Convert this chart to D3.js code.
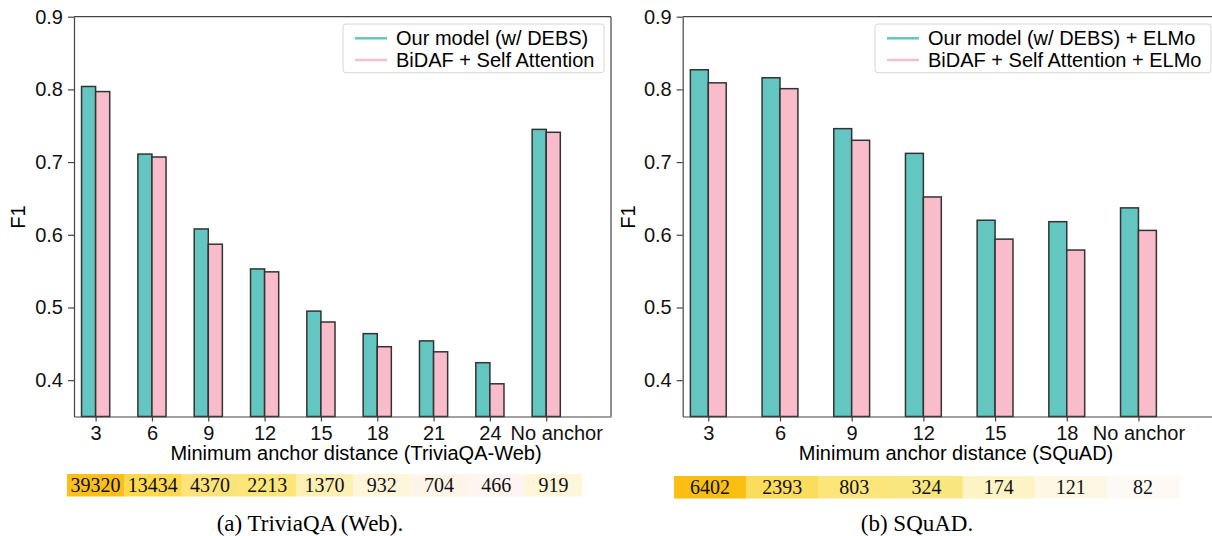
<!DOCTYPE html>
<html>
<head>
<meta charset="utf-8">
<script src="https://cdn.jsdelivr.net/npm/d3@7"></script>
<style>
  body { margin: 0; background: #fff; }
  svg { display: block; }
  .tick text { font-family: "Liberation Sans", Arial, sans-serif; font-size: 20px; fill: #111; }
</style>
</head>
<body>
<script>
// F1 by minimum anchor distance
const triviaCategories = ["3", "6", "9", "12", "15", "18", "21", "24", "No anchor"];
const triviaOurs = [0.804, 0.711, 0.608, 0.553, 0.495, 0.464, 0.454, 0.424, 0.745];
const triviaBidaf = [0.797, 0.707, 0.587, 0.549, 0.480, 0.446, 0.439, 0.395, 0.741];
const triviaCounts = [39320, 13434, 4370, 2213, 1370, 932, 704, 466, 919];

const squadCategories = ["3", "6", "9", "12", "15", "18", "No anchor"];
const squadOurs = [0.827, 0.816, 0.746, 0.712, 0.620, 0.618, 0.637];
const squadBidaf = [0.809, 0.801, 0.730, 0.652, 0.594, 0.579, 0.606];
const squadCounts = [6402, 2393, 803, 324, 174, 121, 82];

const yTicks = [0.4, 0.5, 0.6, 0.7, 0.8, 0.9];

/*
Colours
*/
const teal = "#63c6c0";
const pink = "#f8bccb";
const triviaShades = ["#fbbf1a", "#fdd94f", "#fce47a", "#fce67a", "#fcf0b5", "#fef6da", "#fdf6e8", "#fef4f0", "#fef6da"];
const squadShades = ["#fbbf14", "#fcdc5c", "#fce67b", "#fae67e", "#fdf4c5", "#fdf8e4", "#fdfaf5"];

const svg = d3.select("body").append("svg")
	.attr("width", 1212)
	.attr("height", 536);

const sans = "'Liberation Sans', Arial, sans-serif";
const serif = "'Liberation Serif', 'Times New Roman', serif";

function drawPanel(p) {
	const g = svg.append("g");
	const x = d3.scaleLinear().domain(p.xDomain).range(p.xRange);
	const y = d3.scaleLinear().domain([0.35, 0.9]).range([416.5, 16.7]);
	const idx = d3.range(p.categories.length);

	// bars
	g.selectAll(".ours")
		.data(idx)
		.enter()
		.append("rect")
		.attr("x", (i) => x(i - 0.25))
		.attr("width", (i) => x(i) - x(i - 0.25))
		.attr("y", (i) => y(p.ours[i]))
		.attr("height", (i) => y(0.35) - y(p.ours[i]))
		.attr("fill", teal)
		.attr("stroke", "#333")
		.attr("stroke-width", 1.5);
	g.selectAll(".bidaf")
		.data(idx)
		.enter()
		.append("rect")
		.attr("x", (i) => x(i))
		.attr("width", (i) => x(i + 0.25) - x(i))
		.attr("y", (i) => y(p.bidaf[i]))
		.attr("height", (i) => y(0.35) - y(p.bidaf[i]))
		.attr("fill", pink)
		.attr("stroke", "#333")
		.attr("stroke-width", 1.5);

	// spines
	const x0 = p.xRange[0], x1 = p.xRange[1];
	g.append("line")
		.attr("x1", x0).attr("x2", x1)
		.attr("y1", y(0.9)).attr("y2", y(0.9))
		.attr("stroke", "#444").attr("stroke-width", 1.2);
	g.append("line")
		.attr("x1", x1).attr("x2", x1)
		.attr("y1", y(0.9)).attr("y2", y(0.35))
		.attr("stroke", "#444").attr("stroke-width", 1.2);

	const yAxis = g.append("g")
		.attr("transform", `translate(${x0},0)`)
		.call(d3.axisLeft(y).tickValues(yTicks).tickFormat(d3.format(".1f"))
			.tickSize(6).tickSizeOuter(0).tickPadding(5));
	const xAxis = g.append("g")
		.attr("transform", `translate(0,${y(0.35)})`)
		.call(d3.axisBottom(x).tickValues(idx).tickFormat((i) => p.categories[i])
			.tickSize(5).tickSizeOuter(0).tickPadding(4));
	[yAxis, xAxis].forEach((a) => {
		a.select(".domain").attr("stroke", "#444").attr("stroke-width", 1.2);
		a.selectAll(".tick line").attr("stroke", "#444").attr("stroke-width", 1.2);
	});
	// last label sits a little right of its tick in the TriviaQA panel
	xAxis.selectAll(".tick text")
		.filter((i) => i === idx.length - 1)
		.attr("dx", p.lastShift);

	// labels
	g.append("text")
		.attr("transform", `translate(${p.yLabelX},217) rotate(-90)`)
		.attr("text-anchor", "middle")
		.style("font-family", sans).style("font-size", "20px")
		.text("F1");
	g.append("text")
		.attr("x", p.xLabelX).attr("y", 460)
		.attr("text-anchor", "middle")
		.style("font-family", sans).style("font-size", "20px")
		.text(p.xLabel);

	// legend
	const lg = g.append("g");
	lg.append("rect")
		.attr("x", p.legend[0]).attr("y", 24)
		.attr("width", p.legend[1] - p.legend[0]).attr("height", 48.7)
		.attr("rx", 3)
		.attr("fill", "#fff").attr("fill-opacity", 0.85)
		.attr("stroke", "#d6d6d6").attr("stroke-width", 1);
	[[p.names[0], teal, 38.3], [p.names[1], pink, 60]].forEach((d) => {
		lg.append("line")
			.attr("x1", p.legend[0] + 12).attr("x2", p.legend[0] + 44)
			.attr("y1", d[2]).attr("y2", d[2])
			.attr("stroke", d[1]).attr("stroke-width", 2.5);
		lg.append("text")
			.attr("x", p.legend[0] + 53).attr("y", d[2] + 6.5)
			.style("font-family", sans).style("font-size", "20px")
			.text(d[0]);
	});

	// count strip
	const band = d3.scaleBand().domain(idx).range(p.strip);
	const sg = g.append("g");
	sg.selectAll("rect")
		.data(idx)
		.enter()
		.append("rect")
		.attr("x", (i) => band(i))
		.attr("width", band.bandwidth() + 0.5)
		.attr("y", p.stripY)
		.attr("height", 22.5)
		.attr("fill", (i) => p.shades[i]);
	sg.selectAll("text")
		.data(idx)
		.enter()
		.append("text")
		.attr("x", (i) => band(i) + band.bandwidth() / 2)
		.attr("y", p.stripY + 18)
		.attr("text-anchor", "middle")
		.style("font-family", serif).style("font-size", "20px")
		.attr("fill", "#111")
		.text((i) => p.counts[i]);

	g.append("text")
		.attr("x", p.captionX).attr("y", 531)
		.attr("text-anchor", "middle")
		.style("font-family", serif).style("font-size", "23px")
		.text(p.caption);
}

drawPanel({
	categories: triviaCategories, ours: triviaOurs, bidaf: triviaBidaf,
	counts: triviaCounts, shades: triviaShades,
	xDomain: [-0.384, 9.15], xRange: [74, 611], lastShift: 10,
	yLabelX: 25, xLabel: "Minimum anchor distance (TriviaQA-Web)", xLabelX: 356,
	names: ["Our model (w/ DEBS)", "BiDAF + Self Attention"], legend: [343, 604],
	strip: [67, 582], stripY: 474,
	caption: "(a) TriviaQA (Web).", captionX: 310
});

drawPanel({
	categories: squadCategories, ours: squadOurs, bidaf: squadBidaf,
	counts: squadCounts, shades: squadShades,
	xDomain: [-0.357, 7.5], xRange: [682.7, 1246], lastShift: 0,
	yLabelX: 635, xLabel: "Minimum anchor distance (SQuAD)", xLabelX: 956,
	names: ["Our model (w/ DEBS) + ELMo", "BiDAF + Self Attention + ELMo"], legend: [875, 1211],
	strip: [674, 1179], stripY: 476,
	caption: "(b) SQuAD.", captionX: 917
});
</script>
</body>
</html>
